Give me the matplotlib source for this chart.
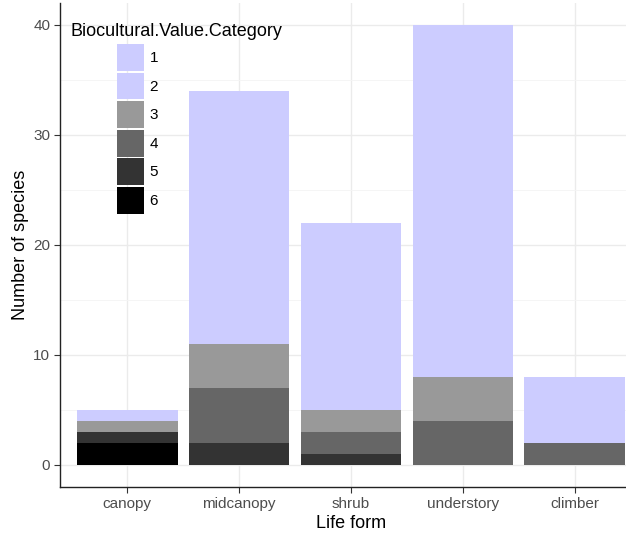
import numpy as np
import matplotlib.pyplot as plt
from matplotlib.patches import Patch

plt.rcParams['font.family'] = ['Liberation Sans', 'DejaVu Sans']

life_forms = ['canopy', 'midcanopy', 'shrub', 'understory', 'climber']
categories = ['1', '2', '3', '4', '5', '6']
colors = ['#CCCCFF', '#CCCCFF', '#999999', '#666666', '#333333', '#000000']

# species counts per category (rows) and life form (columns)
cat1 = [1, 23, 17, 32, 6]
cat2 = [0, 0, 0, 0, 0]
cat3 = [1, 4, 2, 4, 0]
cat4 = [0, 5, 2, 4, 2]
cat5 = [1, 2, 1, 0, 0]
cat6 = [2, 0, 0, 0, 0]
counts = [cat1, cat2, cat3, cat4, cat5, cat6]

fig = plt.figure(figsize=(6.26, 5.35), dpi=100)
ax = fig.add_axes([60/626, 1-487/535, 582/626, 484/535])

x = np.arange(1, len(life_forms) + 1)
bottom = np.zeros(len(life_forms))
# stack 6 at bottom, 1 on top (ggplot order)
for vals, col in zip(counts[::-1], colors[::-1]):
    ax.bar(x, vals, bottom=bottom, width=0.9, color=col, linewidth=0, zorder=2)
    bottom += np.array(vals)

ax.set_xlim(0.4, 5.6)
ax.set_ylim(-2, 42)
ax.set_xticks(x)
ax.set_xticklabels(life_forms)
ax.set_yticks([0, 10, 20, 30, 40])
ax.set_yticks([5, 15, 25, 35], minor=True)
ax.grid(True, which='major', color='#EBEBEB', linewidth=1.0, zorder=0)
ax.grid(True, which='minor', axis='y', color='#F4F4F4', linewidth=0.6, zorder=0)
ax.tick_params(which='minor', length=0)
ax.tick_params(which='major', length=4, pad=3, color='#333333',
               labelcolor='#4D4D4D', labelsize=11)
for s in ['top', 'right']:
    ax.spines[s].set_visible(False)
for s in ['left', 'bottom']:
    ax.spines[s].set_color('#222222')
    ax.spines[s].set_linewidth(1.0)
ax.set_axisbelow(True)

ax.set_xlabel('Life form', fontsize=13, labelpad=3)
ax.set_ylabel('Number of species', fontsize=13, labelpad=3)

handles = [Patch(facecolor=c, edgecolor='none') for c in colors]
fig.legend(handles, categories, loc='upper left',
           bbox_to_anchor=(117/626, 1-44/535), bbox_transform=fig.transFigure,
           frameon=False, fontsize=11, borderpad=0, borderaxespad=0,
           handlelength=1.77, handleheight=2.34, labelspacing=0.1,
           handletextpad=0.35)
fig.text(70/626, 1-31/535, 'Biocultural.Value.Category', fontsize=13,
         va='center', ha='left')

fig.savefig('out.png', dpi=100)
